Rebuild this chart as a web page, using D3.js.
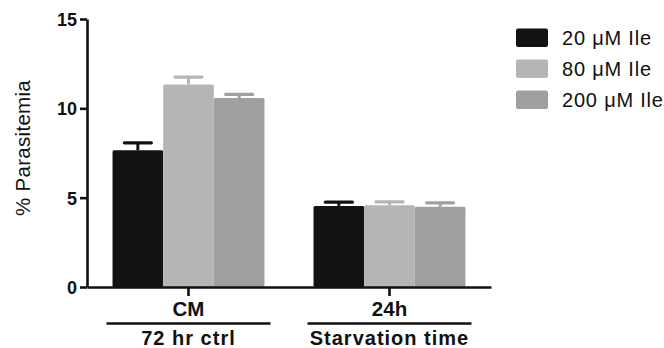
<!DOCTYPE html>
<html>
<head>
<meta charset="utf-8">
<script src="https://cdn.jsdelivr.net/npm/d3@7"></script>
<style>
  html, body { margin: 0; padding: 0; background: #fff; }
  svg { display: block; }
  text { font-family: "Liberation Sans", Arial, Helvetica, sans-serif; fill: #111; }
</style>
</head>
<body>
<svg id="chart" width="664" height="348"></svg>
<script>
// ---- data ----
const categories = ["CM", "24h"];
const groupLabels = ["72 hr ctrl", "Starvation time"];
const seriesNames = ["20 \u03BCM Ile", "80 \u03BCM Ile", "200 \u03BCM Ile"];
const values20 = [7.65, 4.54];
const values80 = [11.34, 4.58];
const values200 = [10.58, 4.49];
const err20 = [0.42, 0.21];
const err80 = [0.41, 0.19];
const err200 = [0.20, 0.22];
const yTicks = [0, 5, 10, 15];
const colors = ["#121212", "#b5b5b5", "#a0a0a0"];

const seriesValues = [values20, values80, values200];
const seriesErrors = [err20, err80, err200];

const svg = d3.select("#chart");

const x0 = d3.scaleBand().domain(categories).range([87, 491])
  .paddingInner(0.244).paddingOuter(0.127);
const x1 = d3.scaleBand().domain(d3.range(seriesNames.length)).range([0, x0.bandwidth()]).padding(0);
const y = d3.scaleLinear().domain([0, 15]).range([287, 19]);

// bars
const rows = [];
categories.forEach((c, ci) => {
  seriesNames.forEach((s, si) => {
    rows.push({ c, si, v: seriesValues[si][ci], e: seriesErrors[si][ci] });
  });
});

const g = svg.append("g");
// error bars (behind bars)
const eb = g.selectAll(".err").data(rows).enter().append("g").attr("class", "err");
eb.append("line")
  .attr("x1", d => x0(d.c) + x1(d.si) + x1.bandwidth() / 2)
  .attr("x2", d => x0(d.c) + x1(d.si) + x1.bandwidth() / 2)
  .attr("y1", d => y(d.v))
  .attr("y2", d => y(d.v + d.e))
  .attr("stroke", d => colors[d.si]).attr("stroke-width", 3);
eb.append("line")
  .attr("x1", d => x0(d.c) + x1(d.si) + x1.bandwidth() / 2 - 13.5)
  .attr("x2", d => x0(d.c) + x1(d.si) + x1.bandwidth() / 2 + 13.5)
  .attr("y1", d => y(d.v + d.e))
  .attr("y2", d => y(d.v + d.e))
  .attr("stroke", d => colors[d.si]).attr("stroke-width", 3.2)
  .attr("stroke-linecap", "round");

g.selectAll(".bar").data(rows).enter().append("rect")
  .attr("class", "bar")
  .attr("x", d => x0(d.c) + x1(d.si))
  .attr("width", x1.bandwidth())
  .attr("y", d => y(d.v))
  .attr("height", d => y(0) - y(d.v))
  .attr("rx", 1.5)
  .attr("fill", d => colors[d.si]);

// y axis
const yAxis = svg.append("g").attr("transform", "translate(87,0)")
  .call(d3.axisLeft(y).tickValues(yTicks).tickSize(7).tickSizeOuter(0).tickPadding(3).tickFormat(d3.format("d")));
yAxis.select(".domain").attr("stroke", "#111").attr("stroke-width", 2.6);
yAxis.selectAll(".tick line").attr("stroke", "#111").attr("stroke-width", 2.6);
yAxis.selectAll(".tick text").style("font-size", "18px").style("font-weight", "bold")
  .attr("fill", "#111").attr("dy", "0.36em");

// x axis
const xAxis = svg.append("g").attr("transform", "translate(0,287)")
  .call(d3.axisBottom(x0).tickSize(9).tickSizeOuter(0).tickFormat(""));
xAxis.select(".domain").attr("stroke", "#111").attr("stroke-width", 2.6);
xAxis.selectAll(".tick line").attr("stroke", "#111").attr("stroke-width", 2.6);

// category labels
svg.selectAll(".cat").data(categories).enter().append("text")
  .attr("x", d => x0(d) + x0.bandwidth() / 2)
  .attr("y", 316)
  .attr("text-anchor", "middle")
  .style("font-size", "20.5px").style("font-weight", "bold")
  .text(d => d);

// group underline + labels
svg.selectAll(".uline").data(categories).enter().append("line")
  .attr("x1", d => x0(d) + x0.bandwidth() / 2 - 82)
  .attr("x2", d => x0(d) + x0.bandwidth() / 2 + 82)
  .attr("y1", 323.5).attr("y2", 323.5)
  .attr("stroke", "#111").attr("stroke-width", 2.6);
svg.selectAll(".grp").data(categories).enter().append("text")
  .attr("x", d => x0(d) + x0.bandwidth() / 2)
  .attr("y", 345)
  .attr("text-anchor", "middle")
  .style("font-size", "20px").style("font-weight", "bold").style("letter-spacing", "1px")
  .text((d, i) => groupLabels[i]);

// y label
svg.append("text")
  .attr("transform", "translate(30,148) rotate(-90)")
  .attr("text-anchor", "middle")
  .style("font-size", "20.5px").style("font-weight", "normal").style("letter-spacing", "0.3px")
  .text("% Parasitemia");

// legend
const leg = svg.selectAll(".leg").data(seriesNames).enter().append("g")
  .attr("transform", (d, i) => `translate(516,${28.5 + i * 31})`);
leg.append("rect").attr("width", 32).attr("height", 18.5).attr("rx", 2)
  .attr("fill", (d, i) => colors[i]);
leg.append("text").attr("x", 46).attr("y", 16.5)
  .style("font-size", "20px").style("letter-spacing", "0.8px")
  .text(d => d);
</script>
</body>
</html>
